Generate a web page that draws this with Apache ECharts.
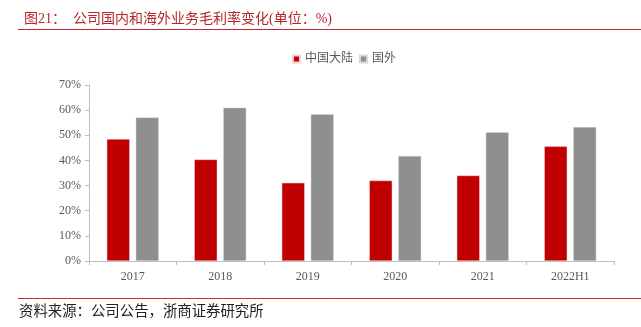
<!DOCTYPE html>
<html>
<head>
<meta charset="utf-8">
<script src="https://cdn.jsdelivr.net/npm/echarts@6/dist/echarts.min.js"></script>
<style>
  html, body { margin: 0; padding: 0; background: #fff; }
  #chart { width: 641px; height: 327px; }
</style>
</head>
<body>
<div id="chart"></div>
<script>
// Gross margin by region, domestic vs overseas (%)
const categories = ['2017', '2018', '2019', '2020', '2021', '2022H1'];
const domesticMargin = [48.5, 40.4, 31.1, 32.0, 34.0, 45.6];
const overseasMargin = [57.1, 61.0, 58.4, 41.8, 51.2, 53.3];
const seriesNames = ['中国大陆', '国外'];
const yTicks = { min: 0, max: 70, interval: 10 };

const serif = '"Liberation Serif", "Times New Roman", "Noto Sans CJK SC", serif';
const cjk = '"Liberation Serif", "Noto Sans CJK SC", serif';

const chart = echarts.init(document.getElementById('chart'), null, { renderer: 'canvas' });

chart.setOption({
  backgroundColor: '#ffffff',
  animation: false,
  title: {
    text: '图21：  公司国内和海外业务毛利率变化(单位：%)',
    left: 19,
    top: 7,
    textStyle: { color: '#B5252B', fontSize: 14, fontWeight: 'normal', fontFamily: cjk }
  },
  graphic: [
    { type: 'line', shape: { x1: 18, y1: 29.5, x2: 641, y2: 29.5 }, style: { stroke: '#C0282E', lineWidth: 1 } },
    { type: 'line', shape: { x1: 18, y1: 298.5, x2: 641, y2: 298.5 }, style: { stroke: '#D02A2A', lineWidth: 1 } },
    {
      type: 'text', left: 19, top: 305,
      style: { text: '资料来源：公司公告，浙商证券研究所', fill: '#222', fontSize: 14.4, fontFamily: cjk }
    }
  ],
  legend: {
    data: seriesNames,
    top: 48,
    left: 287,
    itemWidth: 7,
    itemHeight: 7,
    itemGap: 6,
    icon: 'rect',
    textStyle: { color: '#595959', fontSize: 12, fontFamily: cjk }
  },
  grid: { left: 89, right: 27, top: 85, bottom: 66 },
  xAxis: {
    type: 'category',
    data: categories,
    axisLine: { lineStyle: { color: '#BFBFBF' } },
    axisTick: { show: true, length: 4, lineStyle: { color: '#BFBFBF' } },
    axisLabel: { color: '#595959', fontSize: 12, fontFamily: serif, margin: 10 }
  },
  yAxis: {
    type: 'value',
    min: yTicks.min,
    max: yTicks.max,
    interval: yTicks.interval,
    axisLine: { show: true, lineStyle: { color: '#BFBFBF' } },
    axisTick: { show: true, length: 4, lineStyle: { color: '#BFBFBF' } },
    splitLine: { show: false },
    axisLabel: { color: '#595959', fontSize: 12, fontFamily: serif, formatter: '{value}%', margin: 8 }
  },
  series: [
    {
      name: seriesNames[0],
      type: 'bar',
      data: domesticMargin,
      barWidth: 23,
      barGap: '26%',
      itemStyle: { color: '#C00000', borderColor: '#F2D0D0', borderWidth: 0.5 }
    },
    {
      name: seriesNames[1],
      type: 'bar',
      data: overseasMargin,
      barWidth: 23,
      itemStyle: { color: '#8F8F8F', borderColor: '#D9D9D9', borderWidth: 0.5 }
    }
  ]
});
</script>
</body>
</html>
